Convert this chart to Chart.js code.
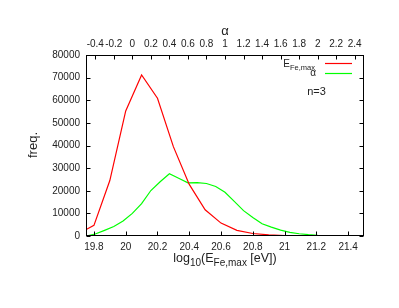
<!DOCTYPE html>
<html>
<head>
<meta charset="utf-8">
<script src="https://cdn.jsdelivr.net/npm/chart.js@4/dist/chart.umd.min.js"></script>
<style>
html, body { margin: 0; padding: 0; background: #fff; }
</style>
</head>
<body>
<canvas id="chart" width="399" height="308"></canvas>
<script>
// log10(E_Fe,max) bins (bottom axis) and their frequencies
let energyBins = [19.7, 19.8, 19.9, 20.0, 20.1, 20.2, 20.3, 20.4, 20.5, 20.6,
    20.7, 20.8, 20.9, 21.0, 21.1, 21.2, 21.3, 21.4, 21.5];
let energyFreq = [900, 4700, 24500, 55300, 71200, 60900, 39500, 22800, 11600, 5700,
    2500, 1100, 500, 200, 100, 50, 20, 10, 0];

// alpha bins (top axis) and their frequencies
let alphaBins = [-0.5, -0.4, -0.3, -0.2, -0.1, 0.0, 0.1, 0.2, 0.3, 0.4, 0.5, 0.6, 0.7,
    0.8, 0.9, 1.0, 1.1, 1.2, 1.3, 1.4, 1.5, 1.6, 1.7, 1.8, 1.9, 2.0, 2.1, 2.2, 2.3, 2.4, 2.5];
let alphaFreq = [0, 900, 2500, 4200, 6600, 10000, 14300, 20100, 24000, 27500, 25500, 23500, 23600,
    23200, 21900, 19300, 15300, 11200, 8200, 5400, 3900, 2600, 1600, 1000, 600, 300, 150, 80, 30, 10, 0];

let energyTicks = [19.8, 20.0, 20.2, 20.4, 20.6, 20.8, 21.0, 21.2, 21.4];
let alphaTicks = [-0.4, -0.2, 0, 0.2, 0.4, 0.6, 0.8, 1, 1.2, 1.4, 1.6, 1.8, 2, 2.2, 2.4];
let freqTicks = [0, 10000, 20000, 30000, 40000, 50000, 60000, 70000, 80000];

const FONT = '"Liberation Sans", Arial, sans-serif';
const INK = '#222';

function fmt(v)
{
    return String(+Number(v).toFixed(1));
}

// text with subscripts: parts = [[text, isSub], ...]
function drawRich(ctx, parts, x, y, size, subSize, align)
{
    let w = 0;
    for (let [t, sub] of parts)
    {
        ctx.font = (sub ? subSize : size) + 'px ' + FONT;
        w += ctx.measureText(t).width;
    }
    let cx = align === 'right' ? x - w : align === 'center' ? x - w / 2 : x;
    ctx.textAlign = 'left';
    ctx.textBaseline = 'alphabetic';
    for (let [t, sub] of parts)
    {
        ctx.font = (sub ? subSize : size) + 'px ' + FONT;
        ctx.fillText(t, cx, sub ? y + size * 0.28 : y);
        cx += ctx.measureText(t).width;
    }
}

const frame = {
    id: 'frame',
    afterDraw(chart)
    {
        const ctx = chart.ctx;
        const a = chart.chartArea;
        const sx = chart.scales.x, sx2 = chart.scales.x2, sy = chart.scales.y;
        const L = Math.round(a.left) + 0.5, R = Math.round(a.right) - 0.5;
        const T = Math.round(a.top) + 0.5, B = Math.round(a.bottom) - 0.5;
        ctx.save();
        ctx.strokeStyle = '#000';
        ctx.lineWidth = 1;
        ctx.beginPath();
        // inward ticks
        for (let v of energyTicks)
        {
            let p = Math.round(sx.getPixelForValue(v)) + 0.5;
            ctx.moveTo(p, B); ctx.lineTo(p, B - 4);
        }
        for (let v of alphaTicks)
        {
            let p = Math.round(sx2.getPixelForValue(v)) + 0.5;
            ctx.moveTo(p, T); ctx.lineTo(p, T + 4);
        }
        for (let v of freqTicks)
        {
            let p = Math.round(sy.getPixelForValue(v)) + 0.5;
            ctx.moveTo(L, p); ctx.lineTo(L + 4, p);
            ctx.moveTo(R, p); ctx.lineTo(R - 4, p);
        }
        ctx.stroke();
        ctx.strokeRect(L, T, R - L, B - T);

        ctx.fillStyle = INK;
        // axis titles
        ctx.font = '13px ' + FONT;
        ctx.textAlign = 'center';
        ctx.textBaseline = 'middle';
        ctx.fillText('\u03b1', (a.left + a.right) / 2, 31);
        ctx.save();
        ctx.translate(33, 145);
        ctx.rotate(-Math.PI / 2);
        ctx.fillText('freq.', 0, 0);
        ctx.restore();
        drawRich(ctx, [['log', false], ['10', true], ['(E', false], ['Fe,max', true], [' [eV])', false]],
            (a.left + a.right) / 2, 262, 12.5, 10, 'center');

        // legend
        drawRich(ctx, [['E', false], ['Fe,max', true]], 315, 67, 10, 7.5, 'right');
        ctx.font = '10px ' + FONT;
        ctx.textAlign = 'right';
        ctx.textBaseline = 'middle';
        ctx.fillText('\u03b1', 316, 73);
        ctx.lineWidth = 1.2;
        ctx.strokeStyle = '#ff0000';
        ctx.beginPath(); ctx.moveTo(325, 63.5); ctx.lineTo(352, 63.5); ctx.stroke();
        ctx.strokeStyle = '#00ff00';
        ctx.beginPath(); ctx.moveTo(325, 73.5); ctx.lineTo(352, 73.5); ctx.stroke();

        ctx.fillStyle = INK;
        ctx.font = '11px ' + FONT;
        ctx.textAlign = 'center';
        ctx.fillText('n=3', 316.5, 92);
        ctx.restore();
    }
};

function axisTicks(list)
{
    return function (scale) { scale.ticks = list.map((v) => { return { value: v }; }); };
}

const tickFont = { family: FONT, size: 10 };

let canvasElement = document.getElementById('chart');
let config = {
    type: 'scatter',
    data: {
        datasets: [{
            label: 'E_Fe,max',
            data: energyBins.map((x, i) => { return { x: x, y: energyFreq[i] }; }),
            xAxisID: 'x',
            yAxisID: 'y',
            showLine: true,
            borderColor: '#ff0000',
            borderWidth: 1.2,
            pointRadius: 0,
            tension: 0
        }, {
            label: 'alpha',
            data: alphaBins.map((x, i) => { return { x: x, y: alphaFreq[i] }; }),
            xAxisID: 'x2',
            yAxisID: 'y',
            showLine: true,
            borderColor: '#00ff00',
            borderWidth: 1.2,
            pointRadius: 0,
            tension: 0
        }]
    },
    options: {
        responsive: false,
        animation: false,
        devicePixelRatio: 1,
        layout: { padding: { left: 0, right: 35, top: 0, bottom: 0 } },
        plugins: { legend: { display: false }, tooltip: { enabled: false } },
        scales: {
            x: {
                type: 'linear', position: 'bottom', min: 19.75, max: 21.5,
                afterBuildTicks: axisTicks(energyTicks),
                afterFit: (s) => { s.height = 72; },
                grid: { display: false, drawTicks: false },
                border: { display: false },
                ticks: { padding: 5, color: INK, font: tickFont, maxRotation: 0, autoSkip: false, callback: fmt }
            },
            x2: {
                type: 'linear', position: 'top', min: -0.5, max: 2.5,
                afterBuildTicks: axisTicks(alphaTicks),
                afterFit: (s) => { s.height = 55; },
                grid: { display: false, drawTicks: false },
                border: { display: false },
                ticks: { padding: 5, color: INK, font: tickFont, maxRotation: 0, autoSkip: false, callback: fmt }
            },
            y: {
                type: 'linear', position: 'left', min: 0, max: 80000,
                afterBuildTicks: axisTicks(freqTicks),
                afterFit: (s) => { s.width = 86; },
                grid: { display: false, drawTicks: false },
                border: { display: false },
                ticks: { padding: 6, color: INK, font: tickFont, callback: (v) => String(v) }
            }
        }
    },
    plugins: [frame]
};

var freqChart = new Chart(canvasElement, config);
</script>
</body>
</html>
